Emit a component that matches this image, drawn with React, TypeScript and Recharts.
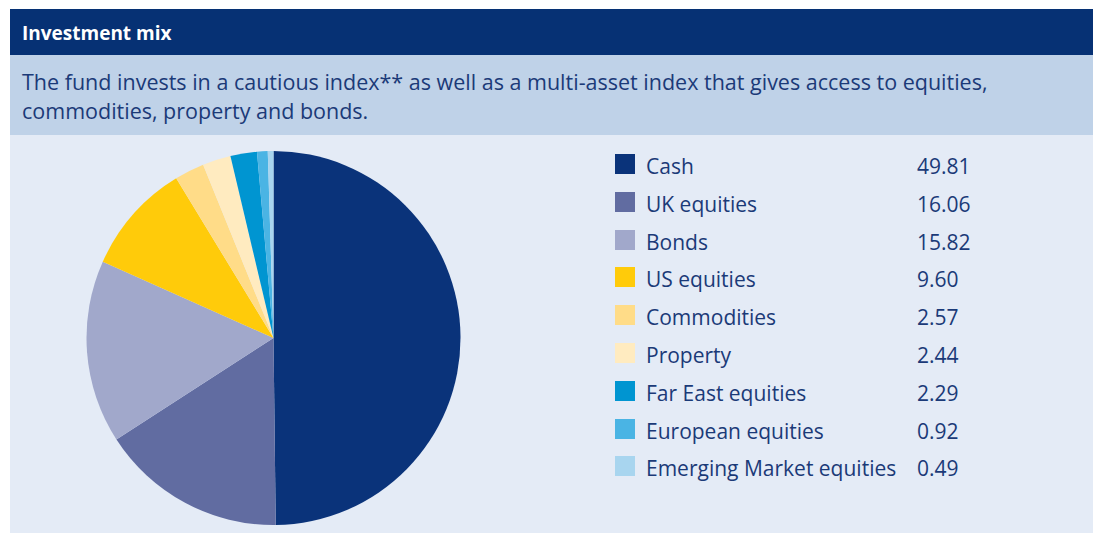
import React from "react";
import { PieChart, Pie, Cell, Legend } from "recharts";

const categories = [
  "Cash",
  "UK equities",
  "Bonds",
  "US equities",
  "Commodities",
  "Property",
  "Far East equities",
  "European equities",
  "Emerging Market equities",
];
const values = [49.81, 16.06, 15.82, 9.6, 2.57, 2.44, 2.29, 0.92, 0.49];
const valueLabels = ["49.81", "16.06", "15.82", "9.60", "2.57", "2.44", "2.29", "0.92", "0.49"];
const colors = [
  "#0a337a",
  "#616ca1",
  "#a1a8cb",
  "#ffcb0a",
  "#ffdc88",
  "#ffebc0",
  "#0095d1",
  "#4ab4e4",
  "#a8d5ef",
];
const title = "Investment mix";
const descriptionLines = [
  "The fund invests in a cautious index** as well as a multi-asset index that gives access to equities,",
  "commodities, property and bonds.",
];

const data = categories.map((name, i) => ({ name, value: values[i], label: valueLabels[i], color: colors[i] }));

const FONT = "'Open Sans', 'Noto Sans', sans-serif";
const TEXT = "#1b3a78";

const LegendContent = () => (
  <div style={{ fontFamily: FONT, color: TEXT, fontSize: 21 }}>
    {data.map((d) => (
      <div key={d.name} style={{ position: "relative", height: 37.8 }}>
        <div style={{ position: "absolute", left: 0, top: 0, width: 20, height: 20, background: d.color }} />
        <div style={{ position: "absolute", left: 31, top: -2, whiteSpace: "nowrap", lineHeight: "28px" }}>{d.name}</div>
        <div style={{ position: "absolute", left: 302, top: -2, whiteSpace: "nowrap", lineHeight: "28px" }}>{d.label}</div>
      </div>
    ))}
  </div>
);

export default function App() {
  return (
    <div style={{ position: "absolute", left: 0, top: 0, width: 1098, height: 533, background: "#ffffff" }}>
      <div
        style={{
          position: "absolute",
          left: 10,
          top: 9,
          width: 1083,
          height: 46,
          background: "#063174",
          color: "#ffffff",
          fontFamily: FONT,
          fontWeight: 700,
          fontSize: 19,
          lineHeight: "49px",
          paddingLeft: 12,
          boxSizing: "border-box",
        }}
      >
        {title}
      </div>
      <div
        style={{
          position: "absolute",
          left: 10,
          top: 55,
          width: 1083,
          height: 80,
          background: "#bfd2e8",
          color: TEXT,
          fontFamily: FONT,
          fontSize: 21.5,
          lineHeight: "29px",
          paddingLeft: 12,
          paddingTop: 12,
          boxSizing: "border-box",
        }}
      >
        {descriptionLines.map((l) => (
          <div key={l} style={{ whiteSpace: "nowrap" }}>{l}</div>
        ))}
      </div>
      <div style={{ position: "absolute", left: 10, top: 135, width: 1083, height: 398, background: "#e4ebf6" }}>
        <PieChart width={1083} height={398} margin={{ top: 0, right: 0, bottom: 0, left: 0 }}>
          <Pie
            data={data}
            dataKey="value"
            nameKey="name"
            cx={263.5}
            cy={203}
            outerRadius={187}
            startAngle={90}
            endAngle={-270}
            stroke="none"
            isAnimationActive={false}
          >
            {data.map((d) => (
              <Cell key={d.name} fill={d.color} />
            ))}
          </Pie>
          <Legend
            content={<LegendContent />}
            wrapperStyle={{ position: "absolute", left: 605, top: 19, width: 400 }}
          />
        </PieChart>
      </div>
    </div>
  );
}
